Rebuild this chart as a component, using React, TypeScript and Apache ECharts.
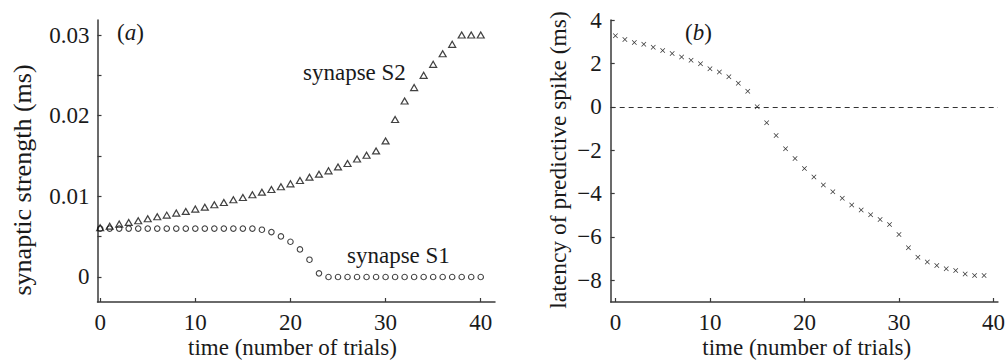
import React, { useEffect, useRef } from "react";
import * as echarts from "echarts";

// ---- data ----
const trialsA = [0,1,2,3,4,5,6,7,8,9,10,11,12,13,14,15,16,17,18,19,20,21,22,23,24,25,26,27,28,29,30,31,32,33,34,35,36,37,38,39,40];
const synapseS1 = [0.006,0.006,0.006,0.006,0.006,0.006,0.006,0.006,0.006,0.006,0.006,0.006,0.006,0.006,0.006,0.006,0.006,0.00586,0.00557,0.00503,0.00437,0.00342,0.00214,0.00045,0,0,0,0,0,0,0,0,0,0,0,0,0,0,0,0,0];
const synapseS2 = [0.0061,0.0063,0.00656,0.00677,0.00697,0.00722,0.00747,0.00767,0.00792,0.00813,0.00842,0.00866,0.00895,0.00924,0.00957,0.00986,0.01019,0.01052,0.01085,0.01118,0.01155,0.01197,0.01238,0.01275,0.01316,0.01365,0.01407,0.01462,0.0151,0.01563,0.01687,0.01952,0.02182,0.02348,0.025,0.02636,0.02768,0.02884,0.03,0.03,0.03];
const trialsB = [0,1,2,3,4,5,6,7,8,9,10,11,12,13,14,15,16,17,18,19,20,21,22,23,24,25,26,27,28,29,30,31,32,33,34,35,36,37,38,39];
const latency = [3.27,3.1,2.96,2.88,2.74,2.59,2.45,2.29,2.14,1.98,1.75,1.6,1.38,1.08,0.71,0.0,-0.74,-1.33,-1.94,-2.39,-2.85,-3.24,-3.61,-3.92,-4.22,-4.53,-4.76,-4.98,-5.2,-5.43,-5.89,-6.5,-6.94,-7.16,-7.32,-7.47,-7.55,-7.71,-7.78,-7.78];

const xTicks = [0, 10, 20, 30, 40];
const yTicksA = [0, 0.005, 0.01, 0.015, 0.02, 0.025, 0.03];
const yLabelsA = [0, 0.01, 0.02, 0.03];
const yTicksB = [-8, -6, -4, -2, 0, 2, 4];

const FONT = "Liberation Serif";
const TXT = "#1a1a1a";
const AX = "#3a3a3a";
const FS = 23;

const crossPath = "path://M0,1L1,0L5,4L9,0L10,1L6,5L10,9L9,10L5,6L1,10L0,9L4,5Z";

export default function App() {
  const ref = useRef<HTMLDivElement>(null);
  useEffect(() => {
    document.body.style.margin = "0";
    const chart = echarts.init(ref.current!, undefined, { renderer: "svg" });
    const tick = (vals: number[]) => ({
      show: true, inside: true, length: 4, customValues: vals, lineStyle: { color: AX, width: 1.2 },
    });
    const base = {
      type: "value",
      axisLine: { show: true, onZero: false, lineStyle: { color: AX, width: 1.5 } },
      splitLine: { show: false },
    };
    const labelStyle = { fontFamily: FONT, fontSize: FS, color: TXT };
    const txt = (text: string, x: number, y: number, align: string, rot = 0, fs = FS) => ({
      type: "text", x, y, rotation: rot,
      style: { text, fontFamily: FONT, fontSize: fs, fill: TXT, textAlign: align, textVerticalAlign: "middle" },
    });
    const panelTag = (letter: string, x: number) => ({
      type: "text", x, y: 32,
      style: {
        text: `{p|(}{i|${letter}}{p|)}`, textVerticalAlign: "middle", textAlign: "left",
        rich: {
          p: { fontFamily: FONT, fontSize: FS, fill: TXT, color: TXT },
          i: { fontFamily: FONT, fontSize: FS, fontStyle: "italic", fill: TXT, color: TXT },
        },
      },
    });
    chart.setOption({
      animation: false,
      backgroundColor: "#fff",
      grid: [
        { left: 97.5, top: 20, width: 397.5, height: 282 },
        { left: 610.7, top: 20, width: 392.3, height: 282 },
      ],
      xAxis: [
        {
          ...base, gridIndex: 0, min: -0.28, max: 41.5,
          axisTick: tick(xTicks),
          axisLabel: { ...labelStyle, margin: 9, customValues: xTicks },
        },
        {
          ...base, gridIndex: 1, min: -0.5, max: 40.47,
          axisTick: tick(xTicks),
          axisLabel: { ...labelStyle, margin: 9, customValues: xTicks },
        },
      ],
      yAxis: [
        {
          ...base, gridIndex: 0, min: -0.0031, max: 0.03186,
          axisTick: tick(yTicksA),
          axisLabel: {
            ...labelStyle, margin: 8, customValues: yLabelsA,
            formatter: (v: number) => (Math.abs(v) < 1e-9 ? "0" : v.toFixed(2)),
          },
        },
        {
          ...base, gridIndex: 1, min: -9, max: 4,
          axisTick: tick(yTicksB),
          axisLabel: {
            ...labelStyle, margin: 9, customValues: yTicksB,
            formatter: (v: number) => String(Math.round(v)).replace("-", "\u2212"),
          },
        },
      ],
      series: [
        {
          type: "scatter", xAxisIndex: 0, yAxisIndex: 0,
          symbol: "circle", symbolSize: 5.5,
          itemStyle: { color: "none", borderColor: "#111", borderWidth: 1.1 },
          data: trialsA.map((t, i) => [t, synapseS1[i]]),
        },
        {
          type: "scatter", xAxisIndex: 0, yAxisIndex: 0,
          symbol: "triangle", symbolSize: [7, 6],
          itemStyle: { color: "none", borderColor: "#111", borderWidth: 1.2 },
          data: trialsA.map((t, i) => [t, synapseS2[i]]),
        },
        {
          type: "scatter", xAxisIndex: 1, yAxisIndex: 1,
          symbol: crossPath, symbolSize: 5,
          itemStyle: { color: "#000" },
          data: trialsB.map((t, i) => [t, latency[i]]),
          markLine: {
            silent: true, symbol: "none", label: { show: false },
            lineStyle: { color: "#333", width: 1, type: [5, 4] },
            data: [{ yAxis: 0 }],
          },
        },
      ],
      graphic: [
        panelTag("a", 117),
        panelTag("b", 685),
        txt("synapse S2", 303, 72, "left"),
        txt("synapse S1", 347, 255, "left"),
        txt("time (number of trials)", 292.5, 347, "center"),
        txt("time (number of trials)", 806.7, 347, "center"),
        txt("synaptic strength (ms)", 22, 180, "center", Math.PI / 2, 26),
        txt("latency of predictive spike (ms)", 558, 160, "center", Math.PI / 2, 23.5),
      ],
    });
    return () => chart.dispose();
  }, []);
  return <div ref={ref} style={{ width: 1008, height: 362 }} />;
}
